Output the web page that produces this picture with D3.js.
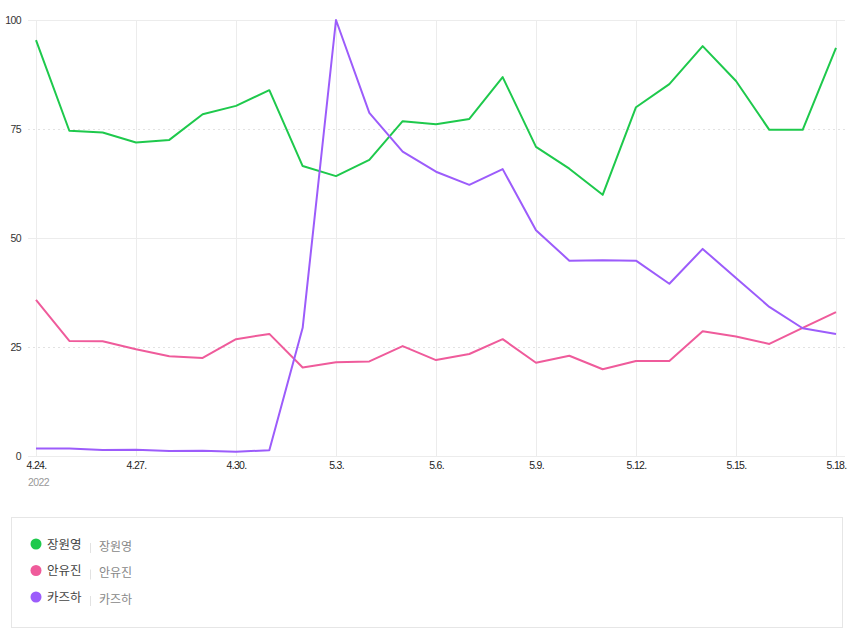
<!DOCTYPE html>
<html>
<head>
<meta charset="utf-8">
<script src="https://cdn.jsdelivr.net/npm/d3@7"></script>
<style>
  html, body { margin: 0; padding: 0; background: #fff; }
  svg { display: block; font-family: "Liberation Sans", "Noto Sans CJK KR", sans-serif; }
</style>
</head>
<body>
<svg id="chart" width="850" height="635"></svg>
<script>
const dates = ["4.24.","4.25.","4.26.","4.27.","4.28.","4.29.","4.30.","5.1.","5.2.","5.3.","5.4.","5.5.","5.6.","5.7.","5.8.","5.9.","5.10.","5.11.","5.12.","5.13.","5.14.","5.15.","5.16.","5.17.","5.18."];
const tickDates = ["4.24.","4.27.","4.30.","5.3.","5.6.","5.9.","5.12.","5.15.","5.18."];
const yTicks = [0, 25, 50, 75, 100];
const seriesNames = ["장원영", "안유진", "카즈하"];
const wonyoung = [95.4,74.6,74.2,71.9,72.5,78.4,80.3,83.9,66.5,64.2,67.9,76.8,76.1,77.3,86.9,70.9,65.9,59.9,80.0,85.3,94.0,86.0,74.8,74.8,93.6];
const yujin = [35.8,26.4,26.3,24.5,22.9,22.5,26.8,28.0,20.3,21.5,21.7,25.2,22.0,23.4,26.8,21.4,23.0,19.9,21.8,21.8,28.6,27.4,25.7,29.4,33.0];
const kazuha = [1.7,1.7,1.4,1.45,1.15,1.2,1.0,1.3,29.4,100,78.7,69.8,65.2,62.2,65.8,51.8,44.8,44.9,44.8,39.5,47.5,40.8,34.2,29.3,28.0];
const colors = ["#1ec94c", "#ef5b9b", "#9c5cfb"];

const svg = d3.select("#chart");
const x = d3.scalePoint().domain(dates).range([36, 836]);
const y = d3.scaleLinear().domain([0, 100]).range([456, 20]);

// horizontal grid
const gridG = svg.append("g");
yTicks.forEach(t => {
  gridG.append("line")
    .attr("x1", 28).attr("x2", 845)
    .attr("y1", Math.round(y(t)) + 0.5).attr("y2", Math.round(y(t)) + 0.5)
    .attr("stroke", (t === 25 || t === 75) ? "#e2e2e2" : "#ececec")
    .attr("stroke-dasharray", (t === 25 || t === 75) ? "2,3" : null)
    .attr("stroke-width", 1);
});
// vertical grid
tickDates.forEach(d => {
  gridG.append("line")
    .attr("x1", Math.round(x(d)) + 0.5).attr("x2", Math.round(x(d)) + 0.5)
    .attr("y1", 20).attr("y2", 456)
    .attr("stroke", "#ececec").attr("stroke-width", 1);
});

// y axis
const yAxis = d3.axisLeft(y).tickValues(yTicks).tickSize(0).tickPadding(0);
const yg = svg.append("g").attr("transform", "translate(21,0)").call(yAxis);
yg.select(".domain").remove();
yg.selectAll("text").attr("font-size", 10.5).attr("fill", "#333").attr("letter-spacing", "-0.6px");

// x axis
const xAxis = d3.axisBottom(x).tickValues(tickDates).tickSize(0).tickPadding(0);
const xg = svg.append("g").attr("transform", "translate(0,462)").call(xAxis);
xg.select(".domain").remove();
xg.selectAll("text").attr("font-size", 10.5).attr("fill", "#222").attr("letter-spacing", "-0.7px").attr("dy", "0.71em");
svg.append("text").attr("x", 28).attr("y", 486).attr("font-size", 10.5).attr("fill", "#999")
  .attr("letter-spacing", "-0.6px").text("2022");

// lines
const line = d3.line().x((d, i) => x(dates[i])).y(d => y(d));
[wonyoung, yujin, kazuha].forEach((s, i) => {
  svg.append("path").datum(s).attr("d", line)
    .attr("fill", "none").attr("stroke", colors[i]).attr("stroke-width", 2)
    .attr("stroke-linejoin", "round");
});

// legend
svg.append("rect").attr("x", 11.5).attr("y", 517.5).attr("width", 831).attr("height", 110)
  .attr("fill", "#fff").attr("stroke", "#e6e6e6");
seriesNames.forEach((n, i) => {
  const cy = 544 + i * 26.5;
  svg.append("circle").attr("cx", 36).attr("cy", cy).attr("r", 5.5).attr("fill", colors[i]);
  svg.append("text").attr("x", 47).attr("y", cy + 4.5).attr("font-size", 12.5)
    .attr("font-family", "Noto Sans CJK KR").attr("font-weight", 400).attr("fill", "#444").text(n);
  svg.append("line").attr("x1", 90.5).attr("x2", 90.5).attr("y1", cy - 1).attr("y2", cy + 9)
    .attr("stroke", "#e2e2e2");
  svg.append("text").attr("x", 99).attr("y", cy + 6.5).attr("font-size", 12)
    .attr("font-family", "Noto Sans CJK KR").attr("font-weight", 400).attr("fill", "#888").text(n);
});
</script>
</body>
</html>
